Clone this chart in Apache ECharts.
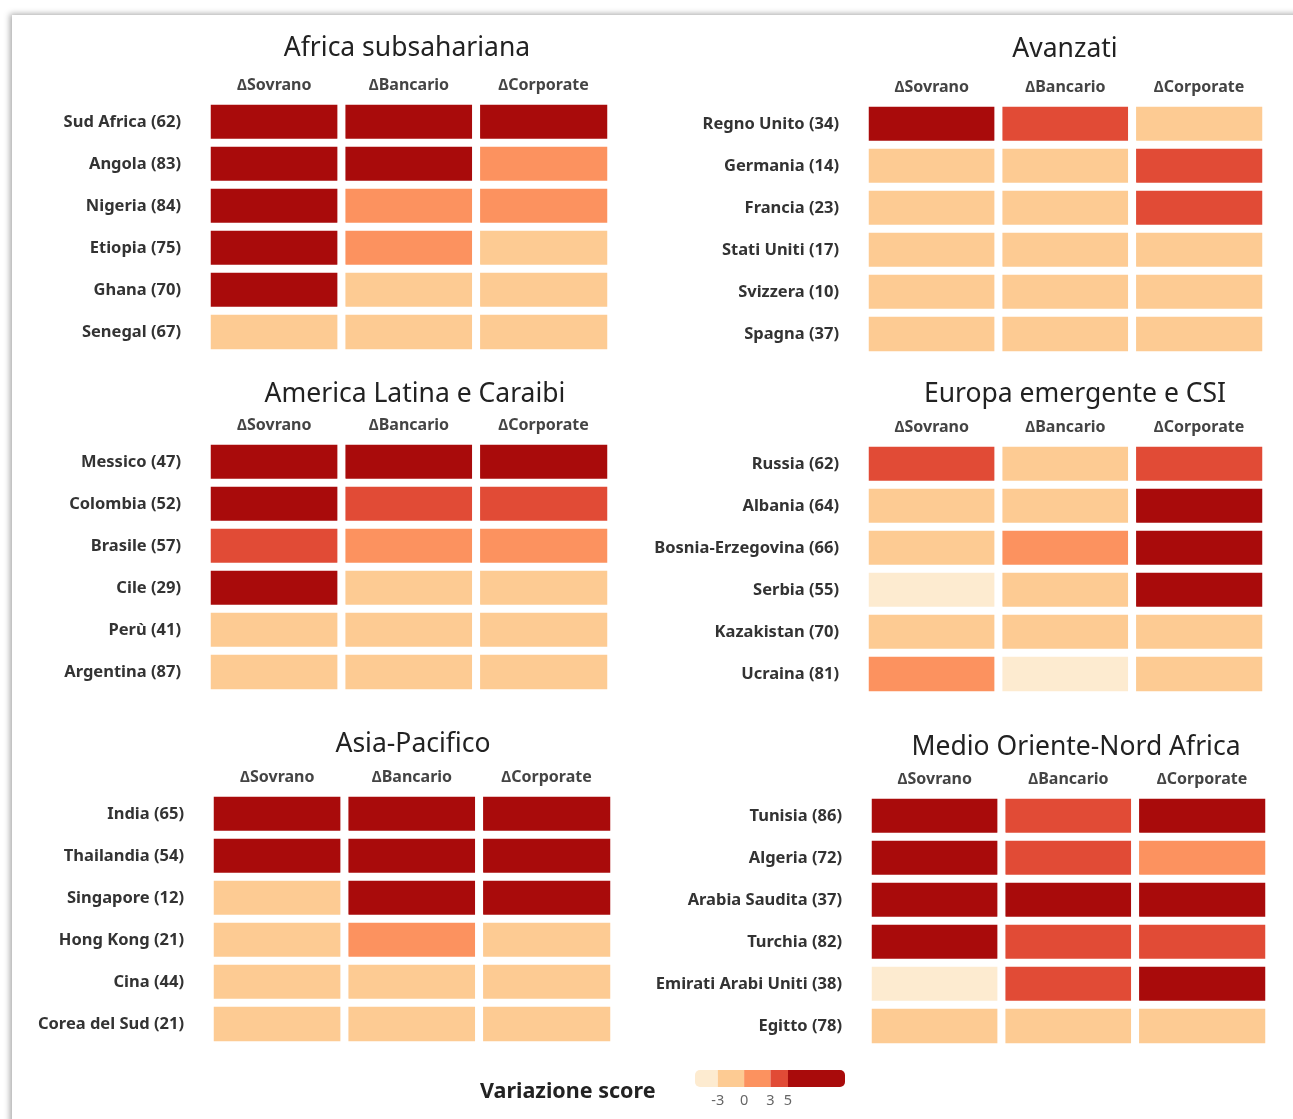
<!DOCTYPE html>
<html>
<head>
<meta charset="utf-8">
<title>Variazione score</title>
<script src="https://cdn.jsdelivr.net/npm/echarts@6/dist/echarts.min.js"></script>
<style>
  html, body { margin: 0; padding: 0; background: #fff; overflow: hidden; }
  #card {
    position: absolute; left: 12px; top: 15px; width: 1400px; height: 1200px;
    background: #fff; box-shadow: -2px -1px 6px rgba(0, 0, 0, 0.35);
  }
  #chart { position: absolute; left: 0; top: 0; width: 1293px; height: 1119px; }
</style>
</head>
<body>
<div id="card"></div>
<div id="chart"></div>
<script>
// colonne comuni a tutti i pannelli
const columns = ["\u2206Sovrano", "\u2206Bancario", "\u2206Corporate"];

// variazione score (classi: -4, -1, 2, 4, 7)
const africaRows = ["Sud Africa (62)", "Angola (83)", "Nigeria (84)", "Etiopia (75)", "Ghana (70)", "Senegal (67)"];
const africaScores = [[7, 7, 7], [7, 7, 2], [7, 2, 2], [7, 2, -1], [7, -1, -1], [-1, -1, -1]];

const avanzatiRows = ["Regno Unito (34)", "Germania (14)", "Francia (23)", "Stati Uniti (17)", "Svizzera (10)", "Spagna (37)"];
const avanzatiScores = [[7, 4, -1], [-1, -1, 4], [-1, -1, 4], [-1, -1, -1], [-1, -1, -1], [-1, -1, -1]];

const latamRows = ["Messico (47)", "Colombia (52)", "Brasile (57)", "Cile (29)", "Perù (41)", "Argentina (87)"];
const latamScores = [[7, 7, 7], [7, 4, 4], [4, 2, 2], [7, -1, -1], [-1, -1, -1], [-1, -1, -1]];

const europaRows = ["Russia (62)", "Albania (64)", "Bosnia-Erzegovina (66)", "Serbia (55)", "Kazakistan (70)", "Ucraina (81)"];
const europaScores = [[4, -1, 4], [-1, -1, 7], [-1, 2, 7], [-4, -1, 7], [-1, -1, -1], [2, -4, -1]];

const asiaRows = ["India (65)", "Thailandia (54)", "Singapore (12)", "Hong Kong (21)", "Cina (44)", "Corea del Sud (21)"];
const asiaScores = [[7, 7, 7], [7, 7, 7], [-1, 7, 7], [-1, 2, -1], [-1, -1, -1], [-1, -1, -1]];

const menaRows = ["Tunisia (86)", "Algeria (72)", "Arabia Saudita (37)", "Turchia (82)", "Emirati Arabi Uniti (38)", "Egitto (78)"];
const menaScores = [[7, 4, 7], [7, 4, 2], [7, 7, 7], [7, 4, 4], [-4, 4, 7], [-1, -1, -1]];

// scala a passi della legenda
const legendBreaks = [-5.6, -3, 0, 3, 5, 11.5];
const legendTicks = [-3, 0, 3, 5];
const palette = ["#fdebd0", "#fdcb93", "#fc925f", "#e14b36", "#a90b0b"];

const panels = [
  { title: "Africa subsahariana", rows: africaRows, scores: africaScores, left: 207, top: 101, width: 404, tx: 407, ty: 46 },
  { title: "Avanzati", rows: avanzatiRows, scores: avanzatiScores, left: 865, top: 103, width: 401, tx: 1065, ty: 47 },
  { title: "America Latina e Caraibi", rows: latamRows, scores: latamScores, left: 207, top: 441, width: 404, tx: 415, ty: 392 },
  { title: "Europa emergente e CSI", rows: europaRows, scores: europaScores, left: 865, top: 443, width: 401, tx: 1075, ty: 392 },
  { title: "Asia-Pacifico", rows: asiaRows, scores: asiaScores, left: 210, top: 793, width: 404, tx: 413, ty: 742 },
  { title: "Medio Oriente-Nord Africa", rows: menaRows, scores: menaScores, left: 868, top: 795, width: 401, tx: 1076, ty: 745 }
];

const FONT = "'Noto Sans', sans-serif";
const chart = echarts.init(document.getElementById("chart"), null, { renderer: "canvas" });

const grid = [], xAxis = [], yAxis = [], series = [], title = [];

panels.forEach(function (p, i) {
  grid.push({ left: p.left, top: p.top, width: p.width, height: 252 });
  title.push({
    text: p.title, left: p.tx, top: p.ty - 11, textAlign: "center", padding: 0,
    textStyle: { fontFamily: FONT, fontSize: 26.5, fontWeight: "normal", color: "#222" }
  });
  xAxis.push({
    type: "category", gridIndex: i, data: columns, position: "top",
    axisLine: { show: false }, axisTick: { show: false }, splitLine: { show: false },
    axisLabel: { margin: 8, fontFamily: FONT, fontSize: 16, fontWeight: "bold", color: "#444" }
  });
  yAxis.push({
    type: "category", gridIndex: i, data: p.rows, inverse: true,
    axisLine: { show: false }, axisTick: { show: false }, splitLine: { show: false },
    axisLabel: { margin: 26, fontFamily: FONT, fontSize: 16.5, fontWeight: "bold", color: "#333" }
  });
  const data = [];
  p.scores.forEach(function (row, r) {
    row.forEach(function (v, c) { data.push([c, r, v]); });
  });
  series.push({
    type: "heatmap", xAxisIndex: i, yAxisIndex: i, data: data,
    itemStyle: { borderColor: "#fff", borderWidth: 8 },
    emphasis: { disabled: true }
  });
});

// legenda: barra a passi disegnata sulla sua scala
const li = panels.length;
grid.push({ left: 695, top: 1070, width: 150, height: 17 });
xAxis.push({
  type: "value", gridIndex: li, min: legendBreaks[0], max: legendBreaks[legendBreaks.length - 1],
  axisLine: { show: false }, axisTick: { show: false }, splitLine: { show: false },
  axisLabel: { customValues: legendTicks, margin: 6, fontFamily: FONT, fontSize: 14.5, color: "#666" }
});
yAxis.push({ type: "category", gridIndex: li, data: ["score"], show: false });

const legendData = [];
for (let k = 0; k < palette.length; k++) legendData.push([legendBreaks[k], legendBreaks[k + 1], k]);

series.push({
  type: "custom", xAxisIndex: li, yAxisIndex: li, data: legendData, silent: true,
  renderItem: function (params, api) {
    const a = api.coord([api.value(0), 0]);
    const b = api.coord([api.value(1), 0]);
    const k = api.value(2);
    const h = api.size([0, 1])[1];
    const r = k === 0 ? [5, 0, 0, 5] : (k === palette.length - 1 ? [0, 5, 5, 0] : 0);
    return {
      type: "rect",
      shape: { x: a[0], y: a[1] - h / 2, width: b[0] - a[0], height: h, r: r },
      style: { fill: palette[k] }
    };
  }
});

title.push({
  text: "Variazione score", left: 480, top: 1081, padding: 0,
  textStyle: { fontFamily: FONT, fontSize: 21.5, fontWeight: "bold", color: "#222" }
});

chart.setOption({
  animation: false,
  backgroundColor: "transparent",
  title: title,
  grid: grid,
  xAxis: xAxis,
  yAxis: yAxis,
  visualMap: {
    show: false,
    type: "piecewise",
    seriesIndex: [0, 1, 2, 3, 4, 5],
    dimension: 2,
    pieces: [
      { lt: -3, color: palette[0] },
      { gte: -3, lte: 0, color: palette[1] },
      { gt: 0, lte: 3, color: palette[2] },
      { gt: 3, lte: 5, color: palette[3] },
      { gt: 5, color: palette[4] }
    ]
  },
  series: series
});
</script>
</body>
</html>
